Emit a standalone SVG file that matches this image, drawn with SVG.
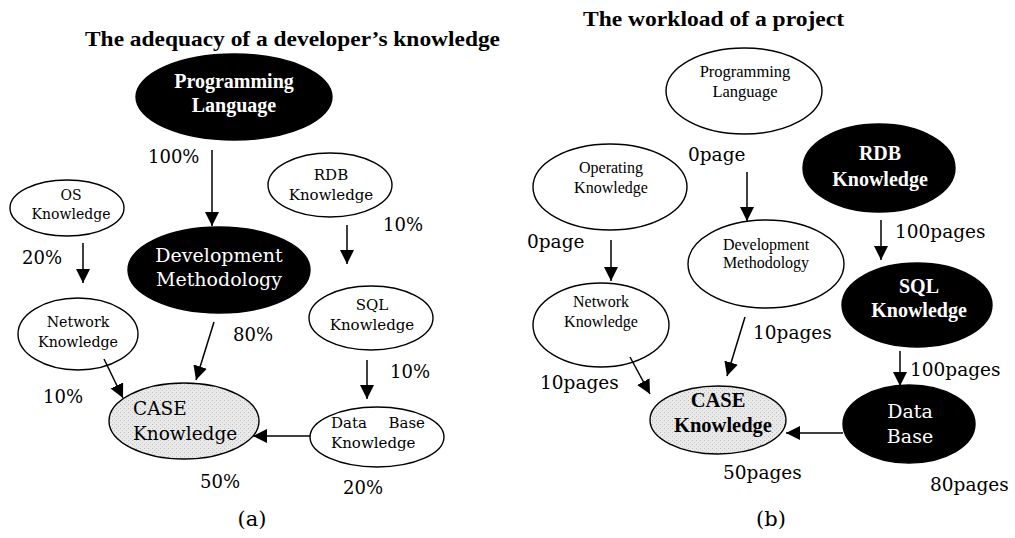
<svg xmlns="http://www.w3.org/2000/svg" width="1015" height="538" viewBox="0 0 1015 538">
<style>
.bg{fill:#fff}
.wn{fill:#fff;stroke:#000;stroke-width:1.4}
.bn{fill:#000;stroke:#000;stroke-width:1.4}
.cn{fill:url(#dots);stroke:#000;stroke-width:1.4}
.c{font-family:"DejaVu Serif","Liberation Serif",serif;fill:#000}
.t{font-family:"Liberation Serif",serif;fill:#000}
.w{fill:#fff}
.b{font-weight:bold}
.m{text-anchor:middle}
.e{text-anchor:end}
.ln{stroke:#000;stroke-width:1.5;fill:none;marker-end:url(#ah)}
</style>
<defs>
<marker id="ah" markerUnits="userSpaceOnUse" markerWidth="14" markerHeight="16" refX="14" refY="7" orient="auto">
<path d="M0,0 L14,7 L0,14 Z" fill="#000"/>
</marker>
<pattern id="dots" width="4" height="4" patternUnits="userSpaceOnUse">
<rect width="4" height="4" fill="#e9e9e9"/>
<rect x="0" y="0" width="1" height="1" fill="#bdbdbd"/>
<rect x="2" y="2" width="1" height="1" fill="#c8c8c8"/>
</pattern>
</defs>
<rect class="bg" width="1015" height="538"/>

<!-- Left panel (a) -->
<text class="t b" x="85" y="46" font-size="21" textLength="415" lengthAdjust="spacingAndGlyphs">The adequacy of a developer’s knowledge</text>

<g id="a-pl">
<ellipse class="bn" cx="234" cy="97" rx="98" ry="43"/>
<text class="t b w m" x="234" y="88" font-size="20">Programming</text>
<text class="t b w m" x="234" y="112" font-size="20">Language</text>
</g>
<g id="a-os">
<ellipse class="wn" cx="67" cy="208" rx="57" ry="28"/>
<text class="c m" x="71" y="200" font-size="14">OS</text>
<text class="c m" x="71" y="219" font-size="14">Knowledge</text>
</g>
<g id="a-rdb">
<ellipse class="wn" cx="330" cy="185" rx="62" ry="32"/>
<text class="c m" x="331" y="180" font-size="15">RDB</text>
<text class="c m" x="331" y="200" font-size="15">Knowledge</text>
</g>
<g id="a-dev">
<ellipse class="bn" cx="219" cy="270" rx="91" ry="43"/>
<text class="c w m" x="219" y="262" font-size="19">Development</text>
<text class="c w m" x="219" y="286" font-size="19">Methodology</text>
</g>
<g id="a-net">
<ellipse class="wn" cx="78" cy="334" rx="60" ry="36"/>
<text class="c m" x="78" y="327" font-size="14.2">Network</text>
<text class="c m" x="78" y="347" font-size="14.2">Knowledge</text>
</g>
<g id="a-sql">
<ellipse class="wn" cx="371" cy="318" rx="62" ry="32"/>
<text class="c m" x="372" y="310" font-size="15">SQL</text>
<text class="c m" x="372" y="330" font-size="15">Knowledge</text>
</g>
<g id="a-case">
<ellipse class="cn" cx="184" cy="421" rx="75" ry="38"/>
<text class="c" x="133" y="415" font-size="18.5">CASE</text>
<text class="c" x="133" y="440" font-size="18.5">Knowledge</text>
</g>
<g id="a-db">
<ellipse class="wn" cx="377" cy="437" rx="67" ry="30"/>
<text class="c" x="331" y="428" font-size="15">Data</text>
<text class="c e" x="425" y="428" font-size="15">Base</text>
<text class="c" x="331" y="448" font-size="15">Knowledge</text>
</g>

<g id="a-connectors">
<line class="ln" x1="212" y1="150" x2="212" y2="226"/>
<line class="ln" x1="347" y1="225" x2="347" y2="264"/>
<line class="ln" x1="83" y1="243" x2="83" y2="283"/>
<line class="ln" x1="214" y1="322" x2="196" y2="380"/>
<line class="ln" x1="104" y1="359" x2="123" y2="398"/>
<line class="ln" x1="367" y1="360" x2="367" y2="399"/>
<line class="ln" x1="310" y1="436" x2="253" y2="436"/>
</g>

<g id="a-labels">
<text class="c" x="148" y="163" font-size="18">100%</text>
<text class="c" x="383" y="231" font-size="18">10%</text>
<text class="c" x="22" y="264" font-size="18">20%</text>
<text class="c" x="233" y="341" font-size="18">80%</text>
<text class="c" x="390" y="378" font-size="18">10%</text>
<text class="c" x="43" y="403" font-size="18">10%</text>
<text class="c" x="200" y="488" font-size="18">50%</text>
<text class="c" x="343" y="494" font-size="18">20%</text>
<text class="c m" x="252" y="526" font-size="21">(a)</text>
</g>

<!-- Right panel (b) -->
<text class="t b" x="583" y="26" font-size="21" textLength="261" lengthAdjust="spacingAndGlyphs">The workload of a project</text>

<g id="b-pl">
<ellipse class="wn" cx="744" cy="91" rx="78" ry="43"/>
<text class="t m" x="745" y="77" font-size="16.5">Programming</text>
<text class="t m" x="745" y="97" font-size="16.5">Language</text>
</g>
<g id="b-os">
<ellipse class="wn" cx="610" cy="187" rx="77" ry="43"/>
<text class="t m" x="611" y="173" font-size="16">Operating</text>
<text class="t m" x="611" y="193" font-size="16">Knowledge</text>
</g>
<g id="b-rdb">
<ellipse class="bn" cx="879" cy="168" rx="76" ry="44"/>
<text class="t b w m" x="880" y="160" font-size="20">RDB</text>
<text class="t b w m" x="880" y="186" font-size="20">Knowledge</text>
</g>
<g id="b-dev">
<ellipse class="wn" cx="766" cy="264" rx="78" ry="44"/>
<text class="t m" x="766" y="250" font-size="16">Development</text>
<text class="t m" x="766" y="268" font-size="16">Methodology</text>
</g>
<g id="b-net">
<ellipse class="wn" cx="601" cy="325" rx="68" ry="42"/>
<text class="t m" x="601" y="307" font-size="16">Network</text>
<text class="t m" x="601" y="327" font-size="16">Knowledge</text>
</g>
<g id="b-sql">
<ellipse class="bn" cx="917" cy="305" rx="75" ry="42"/>
<text class="t b w m" x="919" y="293" font-size="20">SQL</text>
<text class="t b w m" x="919" y="317" font-size="20">Knowledge</text>
</g>
<g id="b-case">
<ellipse class="cn" cx="718" cy="420" rx="68" ry="34"/>
<text class="t b m" x="718" y="407" font-size="20.5">CASE</text>
<text class="t b m" x="723" y="432" font-size="20.5">Knowledge</text>
</g>
<g id="b-db">
<ellipse class="bn" cx="909" cy="424" rx="66" ry="39"/>
<text class="c w m" x="910" y="418" font-size="19">Data</text>
<text class="c w m" x="910" y="443" font-size="19">Base</text>
</g>

<g id="b-connectors">
<line class="ln" x1="747" y1="172" x2="747" y2="221"/>
<line class="ln" x1="611" y1="240" x2="611" y2="281"/>
<line class="ln" x1="881" y1="220" x2="881" y2="260"/>
<line class="ln" x1="745" y1="317" x2="727" y2="376"/>
<line class="ln" x1="630" y1="357" x2="650" y2="394"/>
<line class="ln" x1="900" y1="351" x2="900" y2="386"/>
<line class="ln" x1="843" y1="433" x2="786" y2="433"/>
</g>

<g id="b-labels">
<text class="c" x="688" y="161" font-size="18.5">0page</text>
<text class="c" x="527" y="248" font-size="18.5">0page</text>
<text class="c" x="895" y="238" font-size="18.5">100pages</text>
<text class="c" x="753" y="339" font-size="18.5">10pages</text>
<text class="c" x="910" y="376" font-size="18.5">100pages</text>
<text class="c" x="540" y="389" font-size="18.5">10pages</text>
<text class="c" x="723" y="479" font-size="18.5">50pages</text>
<text class="c" x="930" y="491" font-size="18.5">80pages</text>
<text class="c m" x="771" y="526" font-size="21">(b)</text>
</g>
</svg>
